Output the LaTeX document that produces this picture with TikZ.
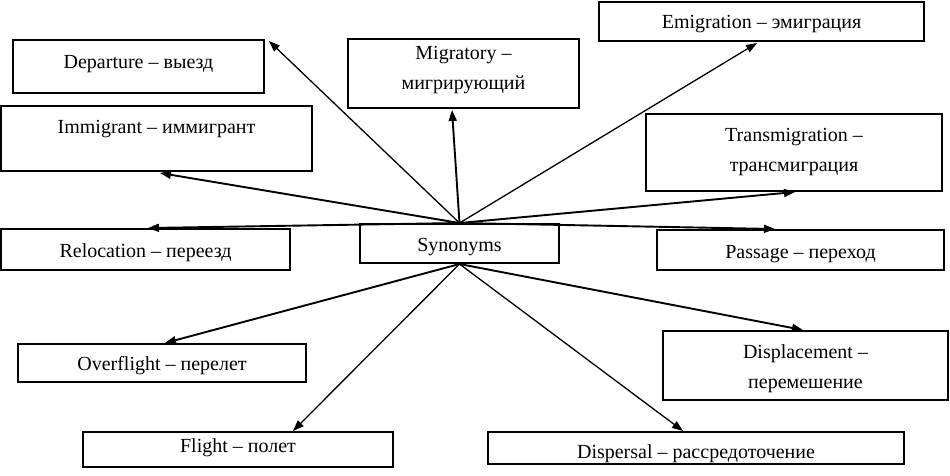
\documentclass[tikz,border=0pt]{standalone}
\usepackage{fontspec}
\setmainfont{Liberation Serif}
\usetikzlibrary{arrows.meta,calc}
\begin{document}
\begin{tikzpicture}[x=1pt,y=-1pt,
  box/.style={draw,line width=2pt,rectangle,inner sep=0pt},
  txt/.style={anchor=base,inner sep=0pt,font=\fontsize{20}{24}\selectfont},
  arr/.style={-{Triangle[length=11pt,width=8pt]},line width=1.3pt},
  arrthick/.style={arr,line width=1.9pt}]
\useasboundingbox (0,0) rectangle (950,475);
% boxes
\node[box,minimum width=251pt,minimum height=53pt] (dep) at (138.5,66.5) {};
\node[box,minimum width=311pt,minimum height=65pt] (imm) at (156.5,138.5) {};
\node[box,minimum width=231pt,minimum height=69pt] (mig) at (463.5,73.5) {};
\node[box,minimum width=325pt,minimum height=39pt] (emi) at (761.5,21.5) {};
\node[box,minimum width=296pt,minimum height=77pt] (tra) at (794,152.5) {};
\node[box,minimum width=199pt,minimum height=39pt] (syn) at (459.5,243.5) {};
\node[box,minimum width=289pt,minimum height=41pt] (rel) at (145.5,249.5) {};
\node[box,minimum width=287pt,minimum height=40pt] (pas) at (800.5,250) {};
\node[box,minimum width=288pt,minimum height=38pt] (ovf) at (162,363) {};
\node[box,minimum width=310pt,minimum height=35pt] (fli) at (238,449.5) {};
\node[box,minimum width=285pt,minimum height=69pt] (dsp) at (805.5,365.5) {};
\node[box,minimum width=416pt,minimum height=32pt] (dis) at (696,448) {};
% texts
\node[txt] (tdep) at (138.5,68) {Departure – выезд};
\node[txt] (timm) at (156.5,133) {Immigrant – иммигрант};
\node[txt] (tmig1) at (463.5,59) {Migratory –};
\node[txt] (tmig2) at (463.5,89) {мигрирующий};
\node[txt] (temi) at (761.5,28) {Emigration – эмиграция};
\node[txt] (ttra1) at (794,141) {Transmigration –};
\node[txt] (ttra2) at (794,171) {трансмиграция};
\node[txt] (tsyn) at (459.5,251) {Synonyms};
\node[txt] (trel) at (145.5,257) {Relocation – переезд};
\node[txt] (tpas) at (800.5,258) {Passage – переход};
\node[txt] (tovf) at (162,370) {Overflight – перелет};
\node[txt] (tfli) at (238,452) {Flight – полет};
\node[txt] (tdsp1) at (805.5,358) {Displacement –};
\node[txt] (tdsp2) at (805.5,388) {перемешение};
\node[txt] (tdis) at (696,458) {Dispersal – рассредоточение};
% arrows (upper)
\draw[arr] (syn.north) -- ($(dep.north east)+(4,2)$);
\draw[arrthick] (syn.north) -- ($(mig.south)+(-11.5,1)$);
\draw[arrthick] (syn.north) -- ($(imm.south)+(3.5,1)$);
\draw[arrthick] (syn.north) -- ($(rel.north)+(2.5,0)$);
\draw[arr] (syn.north) -- ($(emi.south)+(-4.5,1)$);
\draw[arrthick] (syn.north) -- ($(tra.south)+(1,0)$);
\draw[arrthick] (syn.north) -- ($(pas.north)+(-25.5,0)$);
% arrows (lower)
\draw[arrthick] (syn.south) -- ($(ovf.north)+(3,0)$);
\draw[arr] (syn.south) -- ($(fli.north)+(55,0)$);
\draw[arrthick] (syn.south) -- ($(dsp.north)+(-2.5,0)$);
\draw[arr] (syn.south) -- ($(dis.north)+(-13,0)$);
\end{tikzpicture}
\end{document}
